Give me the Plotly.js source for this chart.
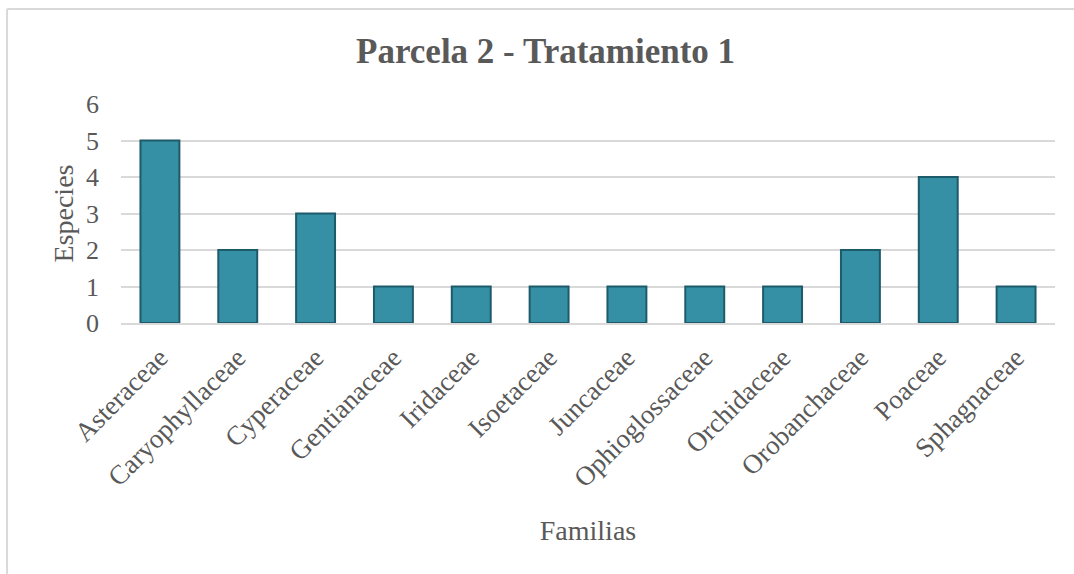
<!DOCTYPE html>
<html>
<head>
<meta charset="utf-8">
<script src="https://cdn.plot.ly/plotly-3.0.1.min.js"></script>
<style>html,body{margin:0;padding:0;background:#fff;}#chart{width:1074px;height:574px;}</style>
</head>
<body>
<div id="chart"></div>
<script>
const familias = ["Asteraceae","Caryophyllaceae","Cyperaceae","Gentianaceae","Iridaceae","Isoetaceae","Juncaceae","Ophioglossaceae","Orchidaceae","Orobanchaceae","Poaceae","Sphagnaceae"];
const especies = [5, 2, 3, 1, 1, 1, 1, 1, 1, 2, 4, 1];
const yTicks = [0, 1, 2, 3, 4, 5, 6];

const font = "'Liberation Serif','Times New Roman',serif";
const grey = "#595959";

const trace = {
  type: "bar",
  x: familias,
  y: especies,
  marker: {color: "#3590a6", line: {color: "#1d5b6b", width: 2}},
  hoverinfo: "x+y"
};

const layout = {
  width: 1074, height: 574,
  margin: {l: 121, r: 19, t: 104, b: 251},
  paper_bgcolor: "#fff", plot_bgcolor: "#fff",
  bargap: 0.5,
  showlegend: false,
  title: {text: "<b>Parcela 2 - Tratamiento 1</b>", font: {family: font, size: 35, color: grey}, x: 0.508, xanchor: "center", y: 0.912, yanchor: "middle"},
  xaxis: {
    tickangle: -45,
    tickfont: {family: font, size: 27, color: grey},
    showgrid: false, showline: true, linecolor: "#d9d9d9", linewidth: 2,
    ticks: "", automargin: false, ticklabelstandoff: 6,
    title: {text: "Familias", font: {family: font, size: 28, color: grey}, standoff: 28}
  },
  yaxis: {
    range: [0, 6], tickvals: yTicks,
    tickfont: {family: font, size: 26, color: grey},
    showgrid: true, gridcolor: "#d9d9d9", gridwidth: 2,
    zeroline: false, showline: false, ticks: "", ticklabelstandoff: 21, automargin: false,
    title: {text: "Especies", font: {family: font, size: 28, color: grey}, standoff: 4}
  },
  shapes: [
    {type: "line", xref: "paper", yref: "paper", x0: -0.122, x1: 1.03, y0: 1.434, y1: 1.434, line: {color: "#d9d9d9", width: 2}},
    {type: "line", xref: "paper", yref: "paper", x0: -0.122, x1: -0.122, y0: 1.434, y1: -1.2, line: {color: "#d9d9d9", width: 2}}
  ]
};

Plotly.newPlot("chart", [trace], layout, {displayModeBar: false, staticPlot: true});
</script>
</body>
</html>
